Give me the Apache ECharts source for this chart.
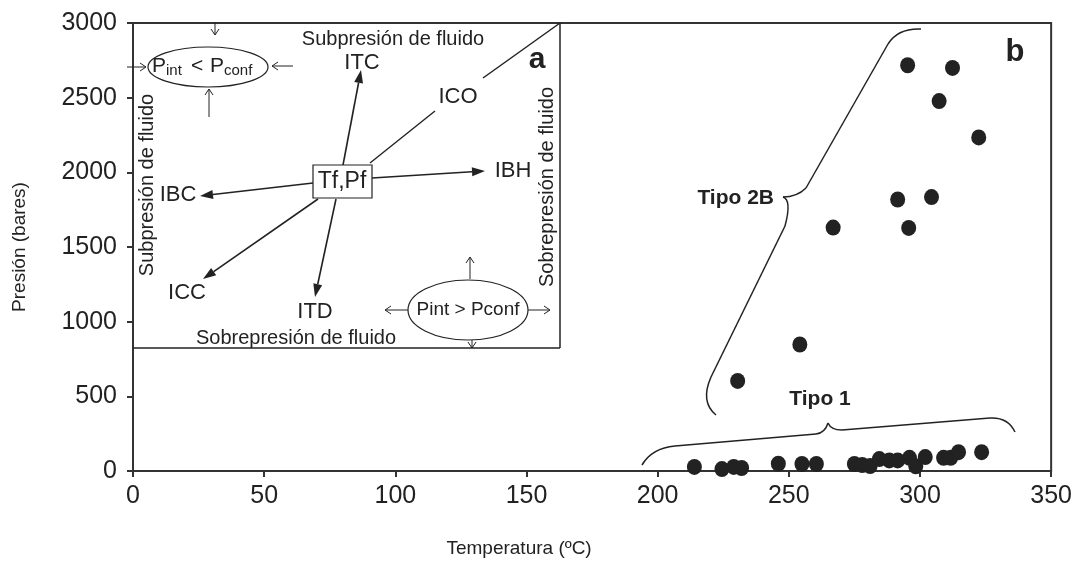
<!DOCTYPE html>
<html>
<head>
<meta charset="utf-8">
<script src="https://cdn.jsdelivr.net/npm/echarts@6/dist/echarts.min.js"></script>
<style>
  html, body { margin: 0; padding: 0; background: #fff; }
  #chart { width: 1075px; height: 563px; }
</style>
</head>
<body>
<div id="chart"></div>
<script>
// ejes
var xTicks = [0, 50, 100, 150, 200, 250, 300, 350];
var yTicks = [0, 500, 1000, 1500, 2000, 2500, 3000];

// Tipo 1 (presiones bajas)
var tipo1T = [214, 224.5, 229, 232, 246, 255, 260.5, 275, 278, 281, 284.5, 288.3, 291.5, 296, 298.4, 302, 309, 311.7, 314.7, 323.5];
var tipo1P = [27, 13, 27, 20, 49, 47, 47, 47, 40, 33, 80, 71, 71, 88, 31, 93, 88, 88, 126, 126];

// Tipo 2B
var tipo2T = [295.3, 312.4, 307.3, 322.4, 291.5, 304.4, 266.9, 295.7, 254.2, 230.5];
var tipo2P = [2717, 2699, 2477, 2234, 1818, 1834, 1630, 1628, 847, 603];

var INK = '#222';
var FONT = '"Liberation Sans", Arial, sans-serif';

function pairs(xs, ys) {
    var out = [];
    for (var i = 0; i < xs.length; i++) out.push([xs[i], ys[i]]);
    return out;
}

// ---- helpers para el dibujo del recuadro (a) ----
function seg(x1, y1, x2, y2, w) {
    return { type: 'line', z: 50, shape: { x1: x1, y1: y1, x2: x2, y2: y2 },
        style: { stroke: INK, lineWidth: w || 1.5 } };
}
function curve(x1, y1, cx, cy, x2, y2) {
    return { type: 'bezierCurve', z: 50,
        shape: { x1: x1, y1: y1, cpx1: cx, cpy1: cy, x2: x2, y2: y2 },
        style: { stroke: INK, lineWidth: 1.5, fill: null } };
}
// flecha con punta rellena
function arrow(x1, y1, x2, y2) {
    var a = Math.atan2(y2 - y1, x2 - x1), len = 13, half = 4.5;
    var bx = x2 - len * Math.cos(a), by = y2 - len * Math.sin(a);
    var px = -Math.sin(a) * half, py = Math.cos(a) * half;
    return [
        seg(x1, y1, bx, by, 1.6),
        { type: 'polygon', z: 51, shape: { points: [[x2, y2], [bx + px, by + py], [bx - px, by - py]] },
            style: { fill: INK } }
    ];
}
// flecha pequeña con punta abierta
function thin(x1, y1, x2, y2) {
    var a = Math.atan2(y2 - y1, x2 - x1), len = 6, half = 4;
    var bx = x2 - len * Math.cos(a), by = y2 - len * Math.sin(a);
    var px = -Math.sin(a) * half, py = Math.cos(a) * half;
    return [
        seg(x1, y1, x2, y2, 1),
        { type: 'polyline', z: 51, shape: { points: [[bx + px, by + py], [x2, y2], [bx - px, by - py]] },
            style: { stroke: INK, lineWidth: 1, fill: null } }
    ];
}
function txt(s, x, y, size, extra) {
    extra = extra || {};
    return { type: 'text', z: 52, x: x, y: y, rotation: extra.rot || 0,
        style: { text: s, x: 0, y: 0, fill: INK,
            font: (extra.bold ? 'bold ' : '') + size + 'px ' + FONT,
            align: extra.align || 'center', verticalAlign: 'middle',
            textAlign: extra.align || 'center', textVerticalAlign: 'middle' } };
}
function ellipse(cx, cy, rx, ry) {
    return { type: 'ellipse', z: 50, shape: { cx: cx, cy: cy, rx: rx, ry: ry },
        style: { stroke: INK, lineWidth: 1.2, fill: '#fff' } };
}

var inset = [];
inset.push(seg(560, 23, 560, 348, 1.5));
inset.push(seg(133, 348, 560, 348, 1.5));
// linea ICO
inset.push(seg(370, 163, 435, 111, 1.5));
inset.push(seg(483, 78, 560, 23, 1.5));
inset = inset.concat(arrow(343, 165, 361, 70));
inset = inset.concat(arrow(372, 178, 485, 171));
inset = inset.concat(arrow(313, 183, 200, 196));
inset = inset.concat(arrow(318, 199, 203, 279));
inset = inset.concat(arrow(336, 199, 315, 297));
inset.push({ type: 'rect', z: 52, shape: { x: 313, y: 165, width: 59, height: 33 },
    style: { stroke: INK, lineWidth: 1.2, fill: '#fff' } });
inset.push(txt('Tf,Pf', 342, 182, 23));
inset.push(txt('ITC', 362, 63, 22));
inset.push(txt('ICO', 458, 97, 22));
inset.push(txt('IBH', 513, 171, 22));
inset.push(txt('IBC', 178, 195, 22));
inset.push(txt('ICC', 187, 293, 22));
inset.push(txt('ITD', 315, 312, 22));
inset.push(txt('Subpresión de fluido', 393, 39, 20));
inset.push(txt('Sobrepresión de fluido', 296, 338, 20));
inset.push(txt('Subpresión de fluido', 147, 185, 20, { rot: Math.PI / 2 }));
inset.push(txt('Sobrepresión de fluido', 547, 187, 20, { rot: Math.PI / 2 }));
inset.push(txt('a', 537, 60, 30, { bold: true }));
// elipse superior izquierda
inset.push(ellipse(208, 67, 60, 20));
inset.push(txt('P', 152, 66, 21, { align: 'left' }));
inset.push(txt('int', 166, 71, 15, { align: 'left' }));
inset.push(txt('<', 191, 66, 21, { align: 'left' }));
inset.push(txt('P', 210, 66, 21, { align: 'left' }));
inset.push(txt('conf', 224, 71, 15, { align: 'left' }));
inset = inset.concat(thin(215, 22, 215, 35));
inset = inset.concat(thin(127, 67, 146, 67));
inset = inset.concat(thin(293, 66, 272, 66));
inset = inset.concat(thin(209, 117, 209, 89));
// elipse inferior derecha
inset.push(ellipse(468, 310, 60, 30));
inset.push(txt('Pint > Pconf', 468, 310, 19));
inset = inset.concat(thin(470, 279, 470, 257));
inset = inset.concat(thin(408, 310, 385, 310));
inset = inset.concat(thin(528, 310, 550, 310));
inset = inset.concat(thin(472, 340, 472, 348));

// ---- llaves y etiquetas del panel (b) ----
var braces = [
    curve(921, 29, 898, 28, 888, 44),
    seg(888, 44, 806, 188),
    curve(806, 188, 797, 197, 783, 197),
    curve(783, 197, 792, 200, 785, 226),
    seg(785, 226, 711, 377),
    curve(711, 377, 700, 402, 716, 415),

    curve(642, 465, 652, 448, 675, 446),
    seg(675, 446, 816, 434),
    curve(816, 434, 825, 433, 828, 423),
    curve(828, 423, 831, 430, 842, 430),
    seg(842, 430, 990, 418),
    curve(990, 418, 1008, 417, 1015, 432),

    txt('Tipo 2B', 774, 198, 21, { bold: true, align: 'right' }),
    txt('Tipo 1', 820, 399, 21, { bold: true }),
    txt('b', 1015, 52, 31, { bold: true })
];

var chart = echarts.init(document.getElementById('chart'));
var option = {
    animation: false,
    backgroundColor: '#fff',
    grid: { left: 133, top: 23, width: 923, height: 451, show: true,
        borderColor: '#333', borderWidth: 2 },
    xAxis: {
        type: 'value', min: xTicks[0], max: xTicks[xTicks.length - 1], interval: 50,
        name: 'Temperatura (ºC)', nameLocation: 'middle', nameGap: 68,
        nameTextStyle: { color: INK, fontSize: 19, fontFamily: FONT, padding: [0, 146, 0, 0] },
        axisLine: { lineStyle: { color: '#333', width: 2 } },
        axisTick: { length: 6, lineStyle: { color: '#333', width: 2 } },
        axisLabel: { color: INK, fontSize: 25, fontFamily: FONT, margin: 13,
            formatter: function (v) { return String(v); } },
        splitLine: { show: false }
    },
    yAxis: {
        type: 'value', min: yTicks[0], max: yTicks[yTicks.length - 1], interval: 500,
        name: 'Presión (bares)', nameLocation: 'middle', nameGap: 104,
        nameTextStyle: { color: INK, fontSize: 19, fontFamily: FONT },
        axisLine: { lineStyle: { color: '#333', width: 2 } },
        axisTick: { length: 6, lineStyle: { color: '#333', width: 2 } },
        axisLabel: { color: INK, fontSize: 25, fontFamily: FONT, margin: 16,
            formatter: function (v) { return String(v); } },
        splitLine: { show: false }
    },
    series: [
        { name: 'Tipo 1', type: 'scatter', data: pairs(tipo1T, tipo1P),
            symbol: 'circle', symbolSize: [15, 16], itemStyle: { color: INK, opacity: 1 } },
        { name: 'Tipo 2B', type: 'scatter', data: pairs(tipo2T, tipo2P),
            symbol: 'circle', symbolSize: [15, 16], itemStyle: { color: INK, opacity: 1 } }
    ],
    graphic: { elements: inset.concat(braces) }
};
chart.setOption(option);
</script>
</body>
</html>
